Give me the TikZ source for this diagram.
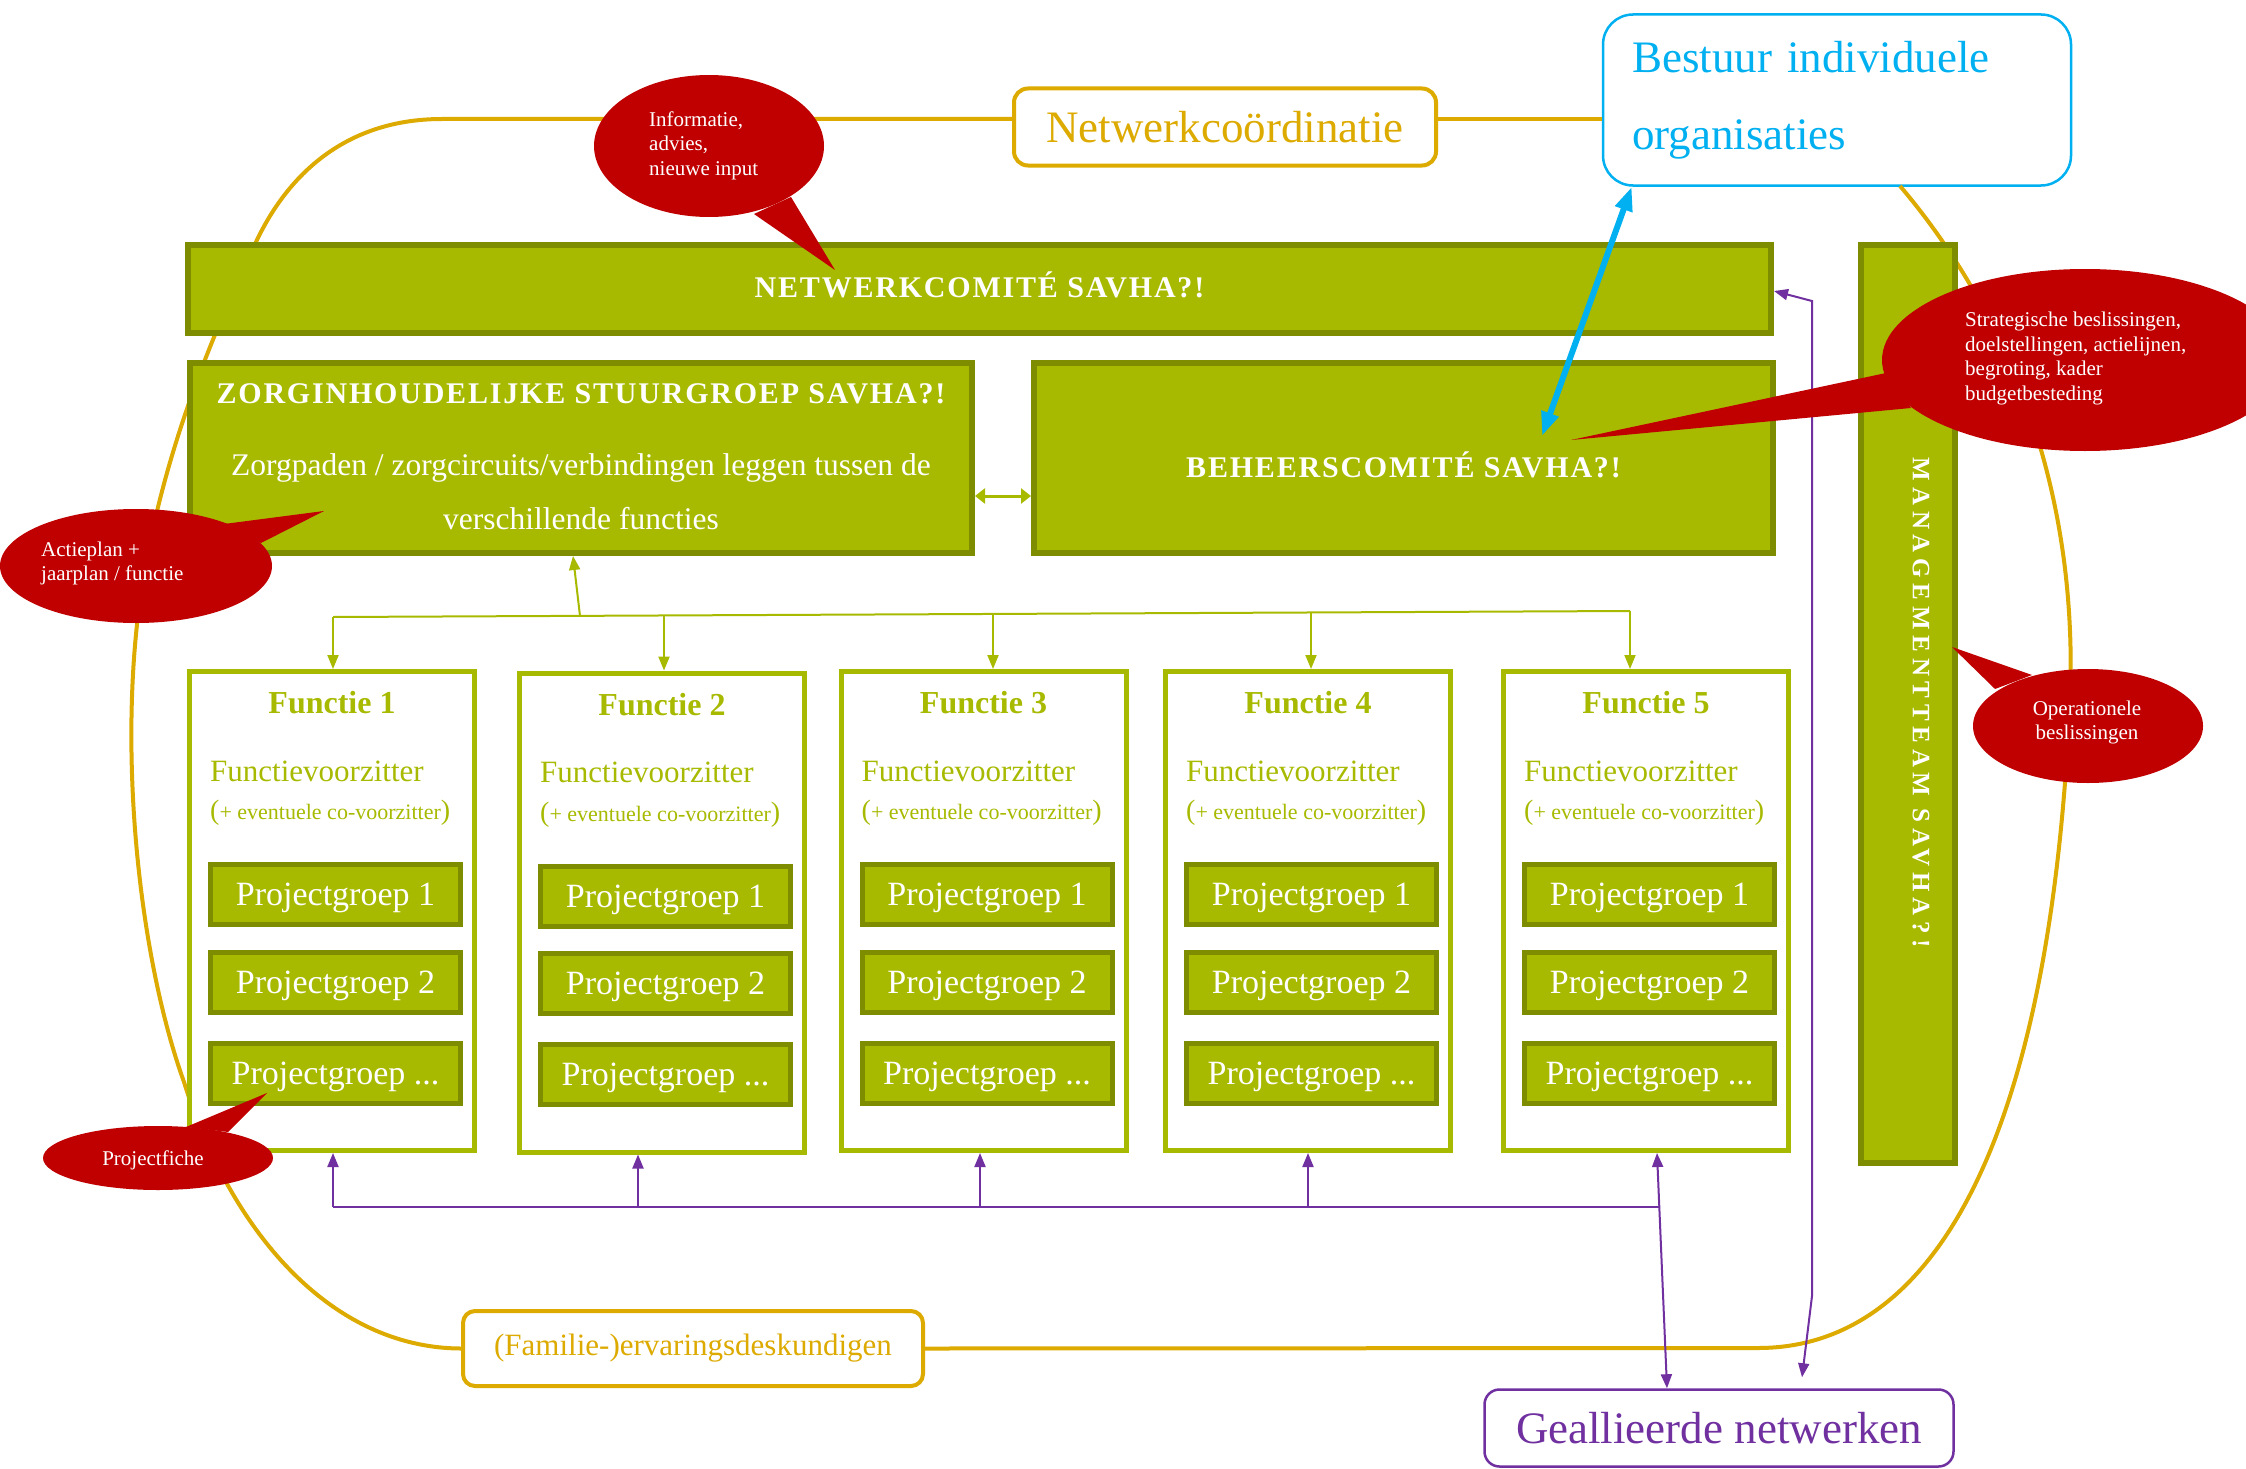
\documentclass[tikz,border=0pt]{standalone}
\usepackage{fontspec}
\setmainfont{Liberation Serif}
\usetikzlibrary{arrows.meta,calc}
\definecolor{cOlive}{HTML}{A8BA00}
\definecolor{cOliveD}{HTML}{7E8C00}
\definecolor{cOrange}{HTML}{DDAA00}
\definecolor{cCyan}{HTML}{00B0F0}
\definecolor{cPurple}{HTML}{7030A0}
\definecolor{cRed}{HTML}{C00000}
\newcommand{\fsz}[2]{\fontsize{#1}{#2}\selectfont}
\newcommand{\bigparen}[1]{{\fsz{28}{30}#1}}
\begin{document}
\begin{tikzpicture}[x=1pt,y=-1pt,
  bigbox/.style={draw=cOliveD, fill=cOlive, line width=6pt, inner sep=0pt},
  fbox/.style={draw=cOlive, fill=white, line width=5pt, minimum width=285pt, minimum height=479pt, inner sep=0pt},
  pgbox/.style={draw=cOliveD, fill=cOlive, line width=5pt, minimum width=250pt, minimum height=60pt, inner sep=0pt, text height=22.5pt, text depth=0pt, text=white, font=\fsz{34}{40}},
  headtxt/.style={text=white, inner sep=0pt, font=\bfseries\fsz{30}{36}\addfontfeatures{LetterSpace=6}},
  ftitle/.style={text=cOlive, inner sep=0pt, font=\bfseries\fsz{32}{38}},
  fvz/.style={text=cOlive, inner sep=0pt, anchor=west, font=\fsz{31}{36}},
  fco/.style={text=cOlive, inner sep=0pt, anchor=west, font=\fsz{22}{26}},
  ctext/.style={text=white, inner sep=0pt, font=\fsz{21}{24.5}},
  gline/.style={draw=cOlive, line width=2pt},
  garrow/.style={gline, -{Triangle[length=14pt,width=11pt]}},
  pline/.style={draw=cPurple, line width=2pt},
  parrow/.style={pline, -{Triangle[length=14pt,width=11pt]}},
  oline/.style={draw=cOrange, line width=4pt}
]
\useasboundingbox (0,0) rectangle (2246,1469);
\clip (0,0) rectangle (2246,1469);
\fill[white] (0,0) rectangle (2246,1469);

% top nodes
\node[draw=cOrange, line width=4pt, rounded corners=14pt, fill=white, minimum width=422pt, minimum height=77pt, inner sep=0pt, text=cOrange, font=\fsz{45}{50}] (netwc) at (1225,127) {Netwerkcoördinatie};
\node[draw=cCyan, line width=2.5pt, rounded corners=30pt, fill=white, minimum width=468pt, minimum height=171pt, inner xsep=0pt, text width=410pt, align=left, text=cCyan, font=\fsz{45}{77}] (bestuur) at (1837,100) {Bestuur individuele\\organisaties};
\node[draw=cOrange, line width=4pt, rounded corners=12pt, fill=white, minimum width=460pt, minimum height=75pt, inner sep=0pt, text=cOrange, font=\fsz{31}{36}] (fam) at (693,1348.5) {(Familie-)ervaringsdeskundigen};
\node[draw=cPurple, line width=2.5pt, rounded corners=15pt, fill=white, minimum width=469pt, minimum height=77pt, inner sep=0pt, text=cPurple, font=\fsz{45}{50}] (geall) at (1719,1428) {Geallieerde netwerken};

% orange loop
\draw[oline] ([yshift=8pt]netwc.west) -- (442,119)
  .. controls (350,119) and (290,170) .. (256,242)
  .. controls (210,340) and (160,460) .. (140,600)
  .. controls (118,760) and (140,960) .. (184,1082)
  .. controls (230,1230) and (330,1348) .. (fam.west);
\draw[oline] (fam.east) -- (1758,1348)
  .. controls (1930,1348) and (2050,1150) .. (2070,700)
  .. controls (2080,450) and (1980,280) .. (1900,186);
\draw[oline] ([yshift=8pt]netwc.east) -- ($(bestuur.west)+(0,19)$);

% big green boxes
\node[bigbox, minimum width=1583pt, minimum height=88pt] (netw) at (979.5,289) {};
\node[headtxt] (netwT) at (979.5,285) {NETWERKCOMITÉ SAVHA?!};
\node[bigbox, minimum width=782pt, minimum height=190pt] (zorg) at (581,458) {};
\node[headtxt] (zorgT) at (581,394) {ZORGINHOUDELIJKE STUURGROEP SAVHA?!};
\node[text=white, inner sep=0pt, align=center, font=\fsz{31.5}{54}] (zorgB) at (581,492) {Zorgpaden / zorgcircuits/verbindingen leggen tussen de\\verschillende functies};
\node[bigbox, minimum width=739pt, minimum height=190pt] (beheer) at (1403.5,458) {};
\node[headtxt] (beheerT) at (1403.5,465) {BEHEERSCOMITÉ SAVHA?!};
\node[bigbox, minimum width=94pt, minimum height=918pt] (mgmt) at (1908,704) {};
\node[rotate=-90, text=white, inner sep=0pt, font=\bfseries\fsz{25}{28}\addfontfeatures{LetterSpace=23}] (mgmtT) at (1921,703) {MANAGEMENTTEAM SAVHA?!};

% functie boxes
\foreach \i/\cx/\dy in {1/332/0, 2/662/1.5, 3/983.5/0, 4/1308/0, 5/1646/0}{
  \node[fbox] (f\i) at (\cx,911+\dy) {};
  \node[ftitle] (f\i t) at (\cx,703+\dy) {Functie \i};
  \node[fvz] (f\i v) at (\cx-122,771+\dy) {Functievoorzitter};
  \node[fco] (f\i c) at (\cx-122,813+\dy) {\bigparen{(}+ eventuele co-voorzitter\bigparen{)}};
  \node[pgbox] (f\i p1) at (\cx+3.5,894.5+\dy) {Projectgroep 1};
  \node[pgbox] (f\i p2) at (\cx+3.5,982+\dy) {Projectgroep 2};
  \node[pgbox] (f\i p3) at (\cx+3.5,1073+\dy) {Projectgroep ...};
}

% green connectors
\coordinate (g1) at (333,617);
\coordinate (g2) at (664,615.5);
\coordinate (g3) at (993,614);
\coordinate (g4) at (1311,612.5);
\coordinate (g5) at (1630,611);
\coordinate (gz) at (580,616);
\coordinate (gzx) at (573,0);
\draw[gline] (g1) -- (g5);
\draw[garrow] (gz) -- (gzx |- zorg.south);
\foreach \i in {1,...,5}{ \draw[garrow] (g\i) -- (g\i |- f\i.north); }
\coordinate (gy) at (0,496);
\draw[draw=cOlive, line width=3pt, {Triangle[length=10pt,width=15pt]}-{Triangle[length=10pt,width=15pt]}] (zorg.east |- gy) -- (beheer.west |- gy);

% purple connectors
\coordinate (p1) at (333,1207);
\coordinate (p2) at (638,1207);
\coordinate (p3) at (980,1207);
\coordinate (p4) at (1308,1207);
\draw[pline] (p1) -- (1659,1207);
\foreach \i in {1,...,4}{ \draw[parrow] (p\i) -- (p\i |- f\i.south); }
\draw[pline, {Triangle[length=14pt,width=11pt]}-{Triangle[length=14pt,width=11pt]}] ([xshift=11pt]f5.south) -- ([xshift=-52pt]geall.north);
\draw[pline, {Triangle[length=14pt,width=11pt]}-{Triangle[length=14pt,width=11pt]}] ([yshift=-2pt]netw.east) -- (1812,301) -- (1812,1296) -- ([shift={(83pt,11pt)}]geall.north);

% blue arrow
\coordinate (bh) at (1542,436);
\draw[cCyan, line width=6pt, {Triangle[length=24pt,width=17pt]}-{Triangle[length=24pt,width=17pt]}] ([xshift=30pt]bestuur.south west) -- (bh);

% callouts
\fill[cRed] (709,146) ellipse [x radius=115, y radius=71];
\fill[cRed] (754,214) -- (835,270) -- (791,197) -- cycle;
\node[ctext, anchor=west, align=left] (c1) at (649,145.5) {Informatie,\\advies,\\nieuwe input};

\fill[cRed] (136,566) ellipse [x radius=136, y radius=57];
\fill[cRed] (224,524) -- (324,511) -- (261,543) -- cycle;
\node[ctext, anchor=west, align=left] (c2) at (41,563.5) {Actieplan +\\jaarplan / functie};

\fill[cRed] (158,1158) ellipse [x radius=115, y radius=32];
\fill[cRed] (186,1127) -- (267,1093) -- (228,1132) -- cycle;
\node[ctext] (c3) at (153,1160) {Projectfiche};

\fill[cRed] (2085,360) ellipse [x radius=203, y radius=91];
\fill[cRed] (1886,373) -- (1571,440) -- (1911,408) -- cycle;
\node[ctext, anchor=west, align=left] (c4) at (1965,358.5) {Strategische beslissingen,\\doelstellingen, actielijnen,\\begroting, kader\\budgetbesteding};

\fill[cRed] (2088,726) ellipse [x radius=115, y radius=57];
\fill[cRed] (1995,689) -- (1952,647) -- (2032,675) -- cycle;
\node[ctext, align=center] (c5) at (2087,722.5) {Operationele\\beslissingen};
\end{tikzpicture}
\end{document}
